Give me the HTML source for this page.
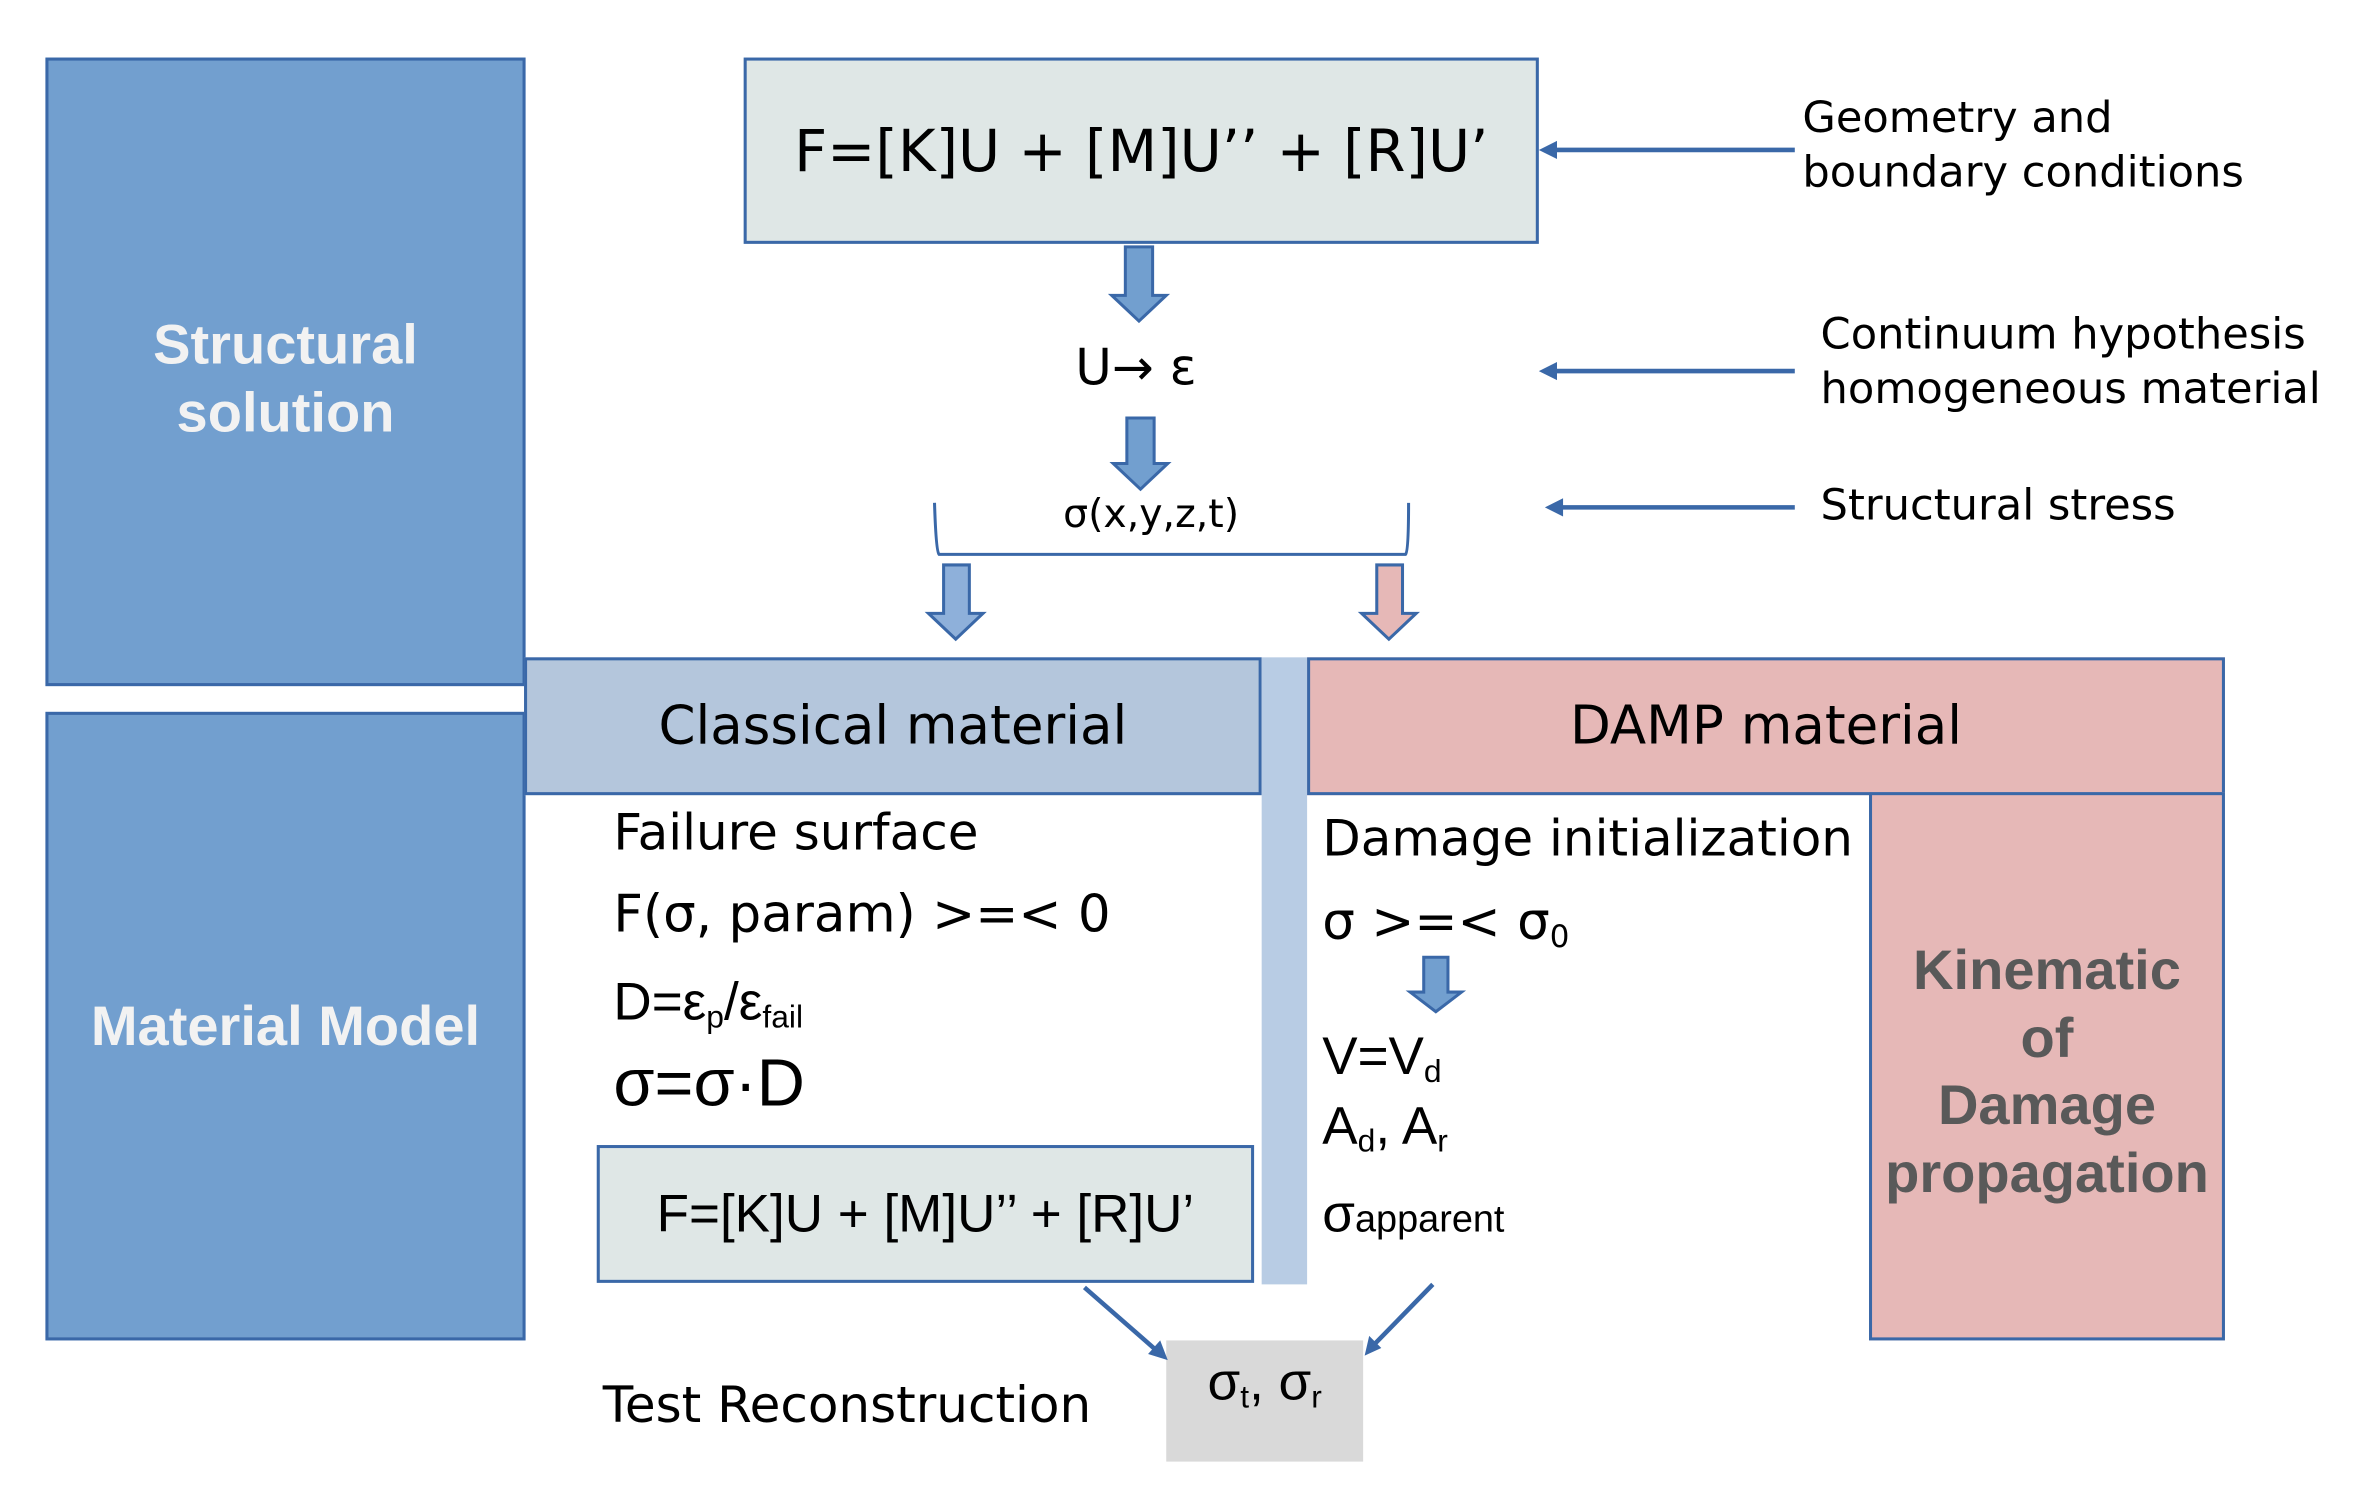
<!DOCTYPE html>
<html><head><meta charset="utf-8"><style>
html,body{margin:0;padding:0;background:#fff;}
#w{width:1568px;height:990px;position:relative;transform:scale(1.5146);transform-origin:0 0;overflow:hidden;}
.a{position:absolute;box-sizing:border-box;}
.t{position:absolute;white-space:nowrap;font-family:"DejaVu Sans","Liberation Sans",sans-serif;color:#000;line-height:1;}
.l{font-family:"Liberation Sans",sans-serif;}
sub{font-size:60%;vertical-align:-0.25em;}
</style></head><body><div id="w">
<div class="a" style="left:30px;top:38px;width:317px;height:415px;background:#729fcf;border:2px solid #3a68a8;"></div>
<div class="a" style="left:30px;top:470px;width:317px;height:415px;background:#729fcf;border:2px solid #3a68a8;"></div>
<div class="t l" style="left:30px;width:317px;text-align:center;top:205px;font-size:37px;font-weight:bold;color:#f2f2f2;line-height:45px;">Structural<br>solution</div>
<div class="t l" style="left:30px;width:317px;text-align:center;top:659px;font-size:37px;font-weight:bold;color:#f2f2f2;">Material Model</div>

<div class="a" style="left:491px;top:38px;width:525px;height:123px;background:#dfe7e6;border:2px solid #3a68a8;"></div>
<div class="t" style="left:491px;width:525px;text-align:center;top:81px;font-size:38px;">F=[K]U + [M]U’’ + [R]U’</div>

<div class="a" style="left:346px;top:434px;width:487px;height:91px;background:#b4c6dc;border:2px solid #3a68a8;"></div>
<div class="t" style="left:346px;width:487px;text-align:center;top:463px;font-size:35px;">Classical material</div>
<div class="a" style="left:833px;top:434px;width:30px;height:414px;background:#b8cce4;"></div>
<div class="a" style="left:863px;top:434px;width:606px;height:91px;background:#e6b8b7;border:2px solid #3a68a8;"></div>
<div class="t" style="left:863px;width:606px;text-align:center;top:463px;font-size:35px;">DAMP material</div>
<div class="a" style="left:1234px;top:523px;width:235px;height:362px;background:#e6b8b7;border:2px solid #3a68a8;"></div>
<div class="t l" style="left:1234px;width:235px;text-align:center;top:619px;font-size:37px;font-weight:bold;color:#595959;line-height:44.5px;">Kinematic<br>of<br>Damage<br>propagation</div>

<div class="t" style="left:405px;top:533px;font-size:33px;">Failure surface</div>
<div class="t" style="left:405px;top:587px;font-size:34px;">F(σ, param) &gt;=&lt; 0</div>
<div class="t l" style="left:405px;top:644px;font-size:35px;">D=ε<sub>p</sub>/ε<sub>fail</sub></div>
<div class="t l" style="left:405px;top:694px;font-size:44px;">σ=σ·D</div>

<div class="a" style="left:394px;top:756px;width:434px;height:91px;background:#dfe7e6;border:2px solid #3a68a8;"></div>
<div class="t l" style="left:394px;width:434px;text-align:center;top:784px;font-size:35px;">F=[K]U + [M]U’’ + [R]U’</div>

<div class="t" style="left:873px;top:537px;font-size:33px;">Damage initialization</div>
<div class="t" style="left:873px;top:592px;font-size:34px;">σ &gt;=&lt; σ<sub>0</sub></div>
<div class="t l" style="left:873px;top:680px;font-size:35px;">V=V<sub>d</sub></div>
<div class="t l" style="left:873px;top:726px;font-size:35px;">A<sub>d</sub>, A<sub>r</sub></div>
<div class="t l" style="left:873px;top:784px;font-size:35px;">σ<span style="font-size:25px;">apparent</span></div>

<div class="a" style="left:770px;top:885px;width:130px;height:80px;background:#d9d9d9;"></div>
<div class="t l" style="left:770px;width:130px;text-align:center;top:895px;font-size:35px;">σ<sub>t</sub>, σ<sub>r</sub></div>
<div class="t" style="left:398px;top:911px;font-size:33px;">Test Reconstruction</div>

<div class="t" style="left:700px;width:100px;text-align:center;top:226px;font-size:33px;">U→ ε</div>
<div class="t" style="left:660px;width:200px;text-align:center;top:327px;font-size:26px;">σ(x,y,z,t)</div>

<div class="t" style="left:1190px;top:60px;font-size:28.5px;line-height:36px;">Geometry and<br>boundary conditions</div>
<div class="t" style="left:1202px;top:203px;font-size:28.5px;line-height:36px;">Continuum hypothesis<br>homogeneous material</div>
<div class="t" style="left:1202px;top:320px;font-size:28.5px;">Structural stress</div>

<svg class="a" style="left:0;top:0" width="1568" height="990" viewBox="0 0 1568 990">
<g fill="#729fcf" stroke="#3a68a8" stroke-width="2">
<polygon points="743,163 761,163 761,195 770,195 752,212 734,195 743,195"/>
<polygon points="744,276 762,276 762,306 771,306 753,323 735,306 744,306"/>
<polygon points="623,373 640,373 640,405 649,405 631,422 613,405 623,405" fill="#8eb0da"/>
<polygon points="909,373 926,373 926,405 935,405 917,422 899,405 909,405" fill="#e6b8b7"/>
<polygon points="940,632 956,632 956,655 965,655 948,668 931,655 940,655"/>
</g>
<path d="M617,332 Q618,364 620,366 L928,366 Q930,364 930,332" fill="none" stroke="#3a68a8" stroke-width="2"/>
<g stroke="#3a68a8" stroke-width="3" fill="none">
<line x1="1185" y1="99" x2="1024" y2="99"/>
<line x1="1185" y1="245" x2="1024" y2="245"/>
<line x1="1185" y1="335" x2="1028" y2="335"/>
<line x1="716" y1="850" x2="764" y2="892"/>
<line x1="946" y1="848" x2="907" y2="888"/>
</g>
<g fill="#3a68a8">
<polygon points="1016,99 1028,93 1028,105"/>
<polygon points="1016,245 1028,239 1028,251"/>
<polygon points="1020,335 1032,329 1032,341"/>
<polygon points="771,898 758,894 766,885"/>
<polygon points="901,895 904,882 912,890"/>
</g>
</svg>
</div></body></html>
